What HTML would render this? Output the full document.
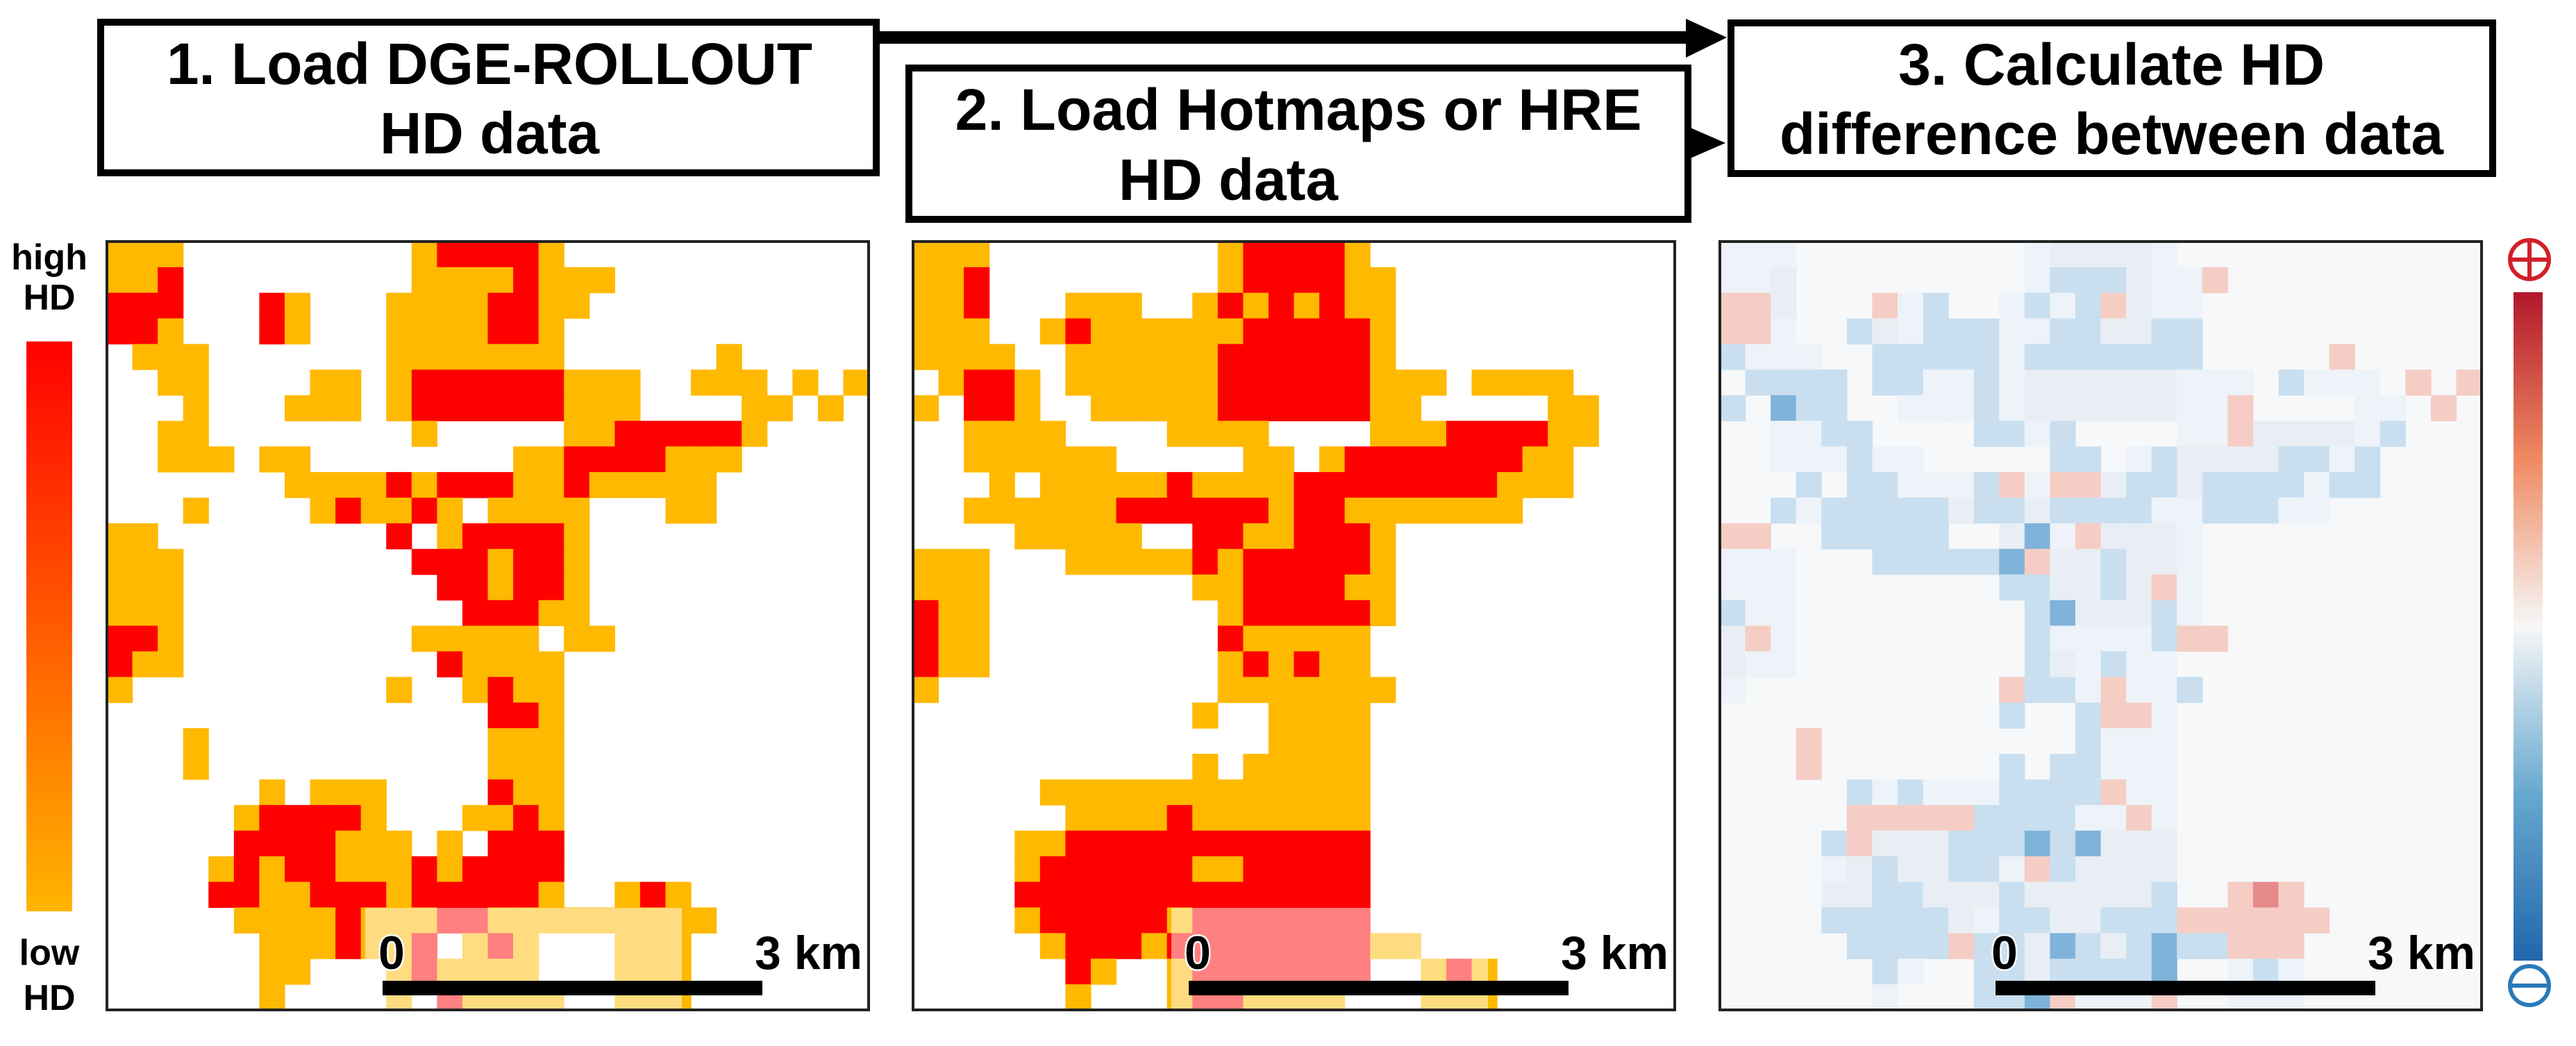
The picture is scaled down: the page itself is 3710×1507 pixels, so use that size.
<!DOCTYPE html>
<html><head><meta charset="utf-8"><style>
html,body{margin:0;padding:0;background:#fff;}
svg{display:block;font-family:"Liberation Sans",sans-serif;font-weight:bold;}
</style></head><body>
<svg id="fig" width="3710" height="1507" viewBox="0 0 3710 1507" xmlns="http://www.w3.org/2000/svg">
<defs>
<linearGradient id="gl" x1="0" y1="0" x2="0" y2="1"><stop offset="0" stop-color="#ff0000"/><stop offset="0.5" stop-color="#ff5a00"/><stop offset="1" stop-color="#ffb400"/></linearGradient>
<linearGradient id="gr" x1="0" y1="0" x2="0" y2="1"><stop offset="0" stop-color="#b2182b"/><stop offset="0.25" stop-color="#ef8a62"/><stop offset="0.5" stop-color="#f7f7f7"/><stop offset="0.75" stop-color="#67a9cf"/><stop offset="1" stop-color="#2166ac"/></linearGradient>
</defs>
<g>
<line x1="1262" y1="54" x2="2440" y2="54" stroke="#000" stroke-width="18"/>
<polygon points="2428,27 2487,54 2428,83" fill="#000"/>
<rect x="145" y="32" width="1117" height="217" fill="#fff" stroke="#000" stroke-width="10"/>
<text x="705" y="121" font-size="84" text-anchor="middle" textLength="930" lengthAdjust="spacingAndGlyphs">1. Load DGE-ROLLOUT</text>
<text x="705" y="221" font-size="84" text-anchor="middle" textLength="316" lengthAdjust="spacingAndGlyphs">HD data</text>
<rect x="1309" y="98" width="1122" height="218" fill="#fff" stroke="#000" stroke-width="10"/>
<text x="1870" y="187" font-size="84" text-anchor="middle" textLength="989" lengthAdjust="spacingAndGlyphs">2. Load Hotmaps or HRE</text>
<text x="1769" y="288" font-size="84" text-anchor="middle" textLength="316" lengthAdjust="spacingAndGlyphs">HD data</text>
<line x1="2431" y1="206" x2="2440" y2="206" stroke="#000" stroke-width="12"/>
<polygon points="2430,182 2485,206 2430,230" fill="#000"/>
<rect x="2493" y="33" width="1097" height="217" fill="#fff" stroke="#000" stroke-width="10"/>
<text x="3041" y="122" font-size="84" text-anchor="middle" textLength="614" lengthAdjust="spacingAndGlyphs">3. Calculate HD</text>
<text x="3041" y="222" font-size="84" text-anchor="middle" textLength="956" lengthAdjust="spacingAndGlyphs">difference between data</text>
</g>
<g id="p1"></g>
<g id="p2"></g>
<g id="p3"></g>
<g>
<rect x="38" y="492" width="66" height="821" fill="url(#gl)"/>
<text x="71" y="388" font-size="52" text-anchor="middle">high</text>
<text x="71" y="446" font-size="52" text-anchor="middle">HD</text>
<text x="71" y="1390" font-size="52" text-anchor="middle">low</text>
<text x="71" y="1455" font-size="52" text-anchor="middle">HD</text>
</g>
<g>
<rect x="3620" y="421" width="42" height="963" fill="url(#gr)"/>
<circle cx="3643" cy="374" r="28" fill="none" stroke="#d0202a" stroke-width="6"/>
<line x1="3615" y1="374" x2="3671" y2="374" stroke="#d0202a" stroke-width="6"/>
<line x1="3643" y1="346" x2="3643" y2="402" stroke="#d0202a" stroke-width="6"/>
<circle cx="3643" cy="1420" r="28" fill="none" stroke="#2a7ab8" stroke-width="6"/>
<line x1="3615" y1="1420" x2="3671" y2="1420" stroke="#2a7ab8" stroke-width="6"/>
</g>
</svg>
<script>
const grid1 = [
"ooo.........orrrro","oor.........oooorooo","rrr...ro...oooorroo","rro...ro...oooorro",
".ooo.......ooooooo......o","..oo....oo.orrrrrrooo..ooo.o.o","...o...ooo.orrrrrrooo....oo.o","..oo........o.....oorrrrro",
"..ooo.oo........oorrrrooo",".......oooororrroorooooo","...o....orooro.oooo...oo","oo.........r.orrrro",
"ooo.........rrrorro","ooo..........rrorro","ooo...........rrroo","rro.........ooooo.oo",
"roo..........roooo","o..........o..oroo","...............rro","...o...........ooo",
"...o...........ooo","......o.ooo....roo",".....orrrro...ooro",".....rrrrooo.o.rrr",
"....ororrooororrrr","....rroorrrorrrrro..oro",".....oooorooorrooooooooo","......oooroor.oro...ooo",
"......oo...oroooo...ooo","......o....o.roooo..ooo"];
const grid2 = [
"ooo.........orrrro","oor.........orrrroo","oor...ooo..orororoo","ooo..oroooooorrrrro",
"oooo..oooooorrrrrro",".orro.oooooorrrrrrooo.oooo","o.rro..ooooorrrrrroo.....oo","..oooo....oooo....ooorrrroo",
"..oooooo.....oo.orrrrrrroo","...o.oooooroooorrrrrrrrooo","..oooooorrrrrrorrooooooo","....ooooo..rroorrro",
"ooo...ooooororrrrro","ooo........oorrrroo","roo.........orrrrro","roo.........rooooo",
"roo.........ororoo","o...........ooooooo","...........o..oooo","..............oooo",
"...........o.ooooo",".....ooooooooooooo","......oooorooooooo","....oorrrrrrrrrrrr",
"....orrrrrroorrrrr","....rrrrrrrrrrrrrr","....orrrrrorrrrrrr",".....orrrorrrrrrrroo",
"......ro..orrrrrrr..oro","......o...orroooo...ooo"];
const scaleLabels = ["0", "3 km"];
const NS = "http://www.w3.org/2000/svg";
const COLS = 30, ROWS = 30, PW = 1097, PH = 1107, PY = 348;
const panelX = [154, 1315, 2477];
function mk(tag, attrs, parent){const e=document.createElementNS(NS,tag);for(const k in attrs)e.setAttribute(k,attrs[k]);parent.appendChild(e);return e;}
function val(g,r,c){const ch=(g[r]||"").padEnd(COLS,".")[c];return ch==="r"?2:ch==="o"?1:0;}
function cx(px,c){return px + c*PW/COLS;}
function cy(r){return PY + r*PH/ROWS;}
function drawPanel(id, px, grid, diff){
  const g = document.getElementById(id);
  const bg = mk("rect",{x:px,y:PY,width:PW,height:PH,fill:diff?"#f6f8fa":"#fff"},g);
  
  
  for(let r=0;r<ROWS;r++)for(let c=0;c<COLS;c++){
    let fill=null;
    if(!diff){const v=val(grid,r,c); if(v===1)fill="#ffb900"; else if(v===2)fill="#ff0000";}
    else{
      const a=val(grid1,r,c), b=val(grid2,r,c), d=a-b;
      if(d>0) fill = d>1?"#e58a8a":"#f6cdc4";
      else if(d<0) fill = d<-1?"#7fb3d9":"#c9dff0";
      else if(a>0) fill = a>1?"#e9eef4":"#edf3f8";
    }
    if(fill){
      const cell=mk("rect",{x:cx(px,c),y:cy(r),width:PW/COLS+0.6,height:PH/ROWS+0.6,fill:fill},g);
      
      
    }
  }
  if(!diff){
    const ov=mk("rect",{x:px+372,y:PY+960,width:456,height:PH-960,fill:"#fff","fill-opacity":0.5},g);
    
    
  }
  const fr=mk("rect",{x:px,y:PY,width:PW,height:PH,fill:"none",stroke:"#222","stroke-width":4},g);
  
  
  const bar=mk("rect",{x:px+397,y:1413,width:547,height:21,fill:"#000"},g);
  
  
  const t0=mk("text",{x:px+391,y:1396,"font-size":68,fill:"#000",stroke:"#fff","stroke-width":5,"paint-order":"stroke"},g);
  t0.textContent=scaleLabels[0];
  
  
  const t1=mk("text",{x:px+1088,y:1396,"font-size":68,"text-anchor":"end",fill:"#000"},g);
  t1.textContent=scaleLabels[1];
  
  
}
drawPanel("p1",panelX[0],grid1,false);
drawPanel("p2",panelX[1],grid2,false);
drawPanel("p3",panelX[2],null,true);
</script>
</body></html>
